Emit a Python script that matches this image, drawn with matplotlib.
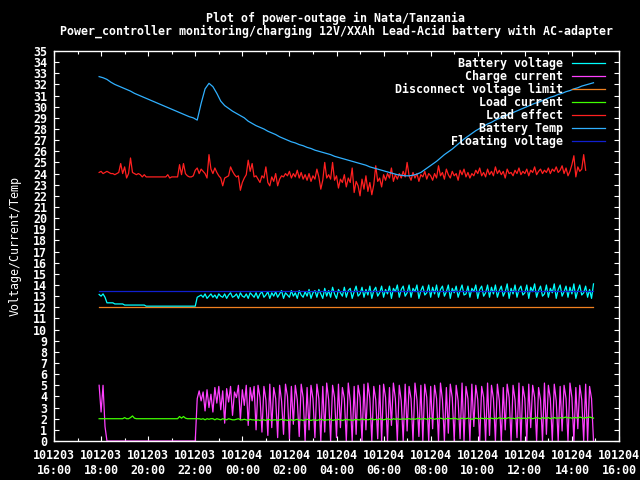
import numpy as np
import pandas as pd
import matplotlib
matplotlib.use('Agg')
import matplotlib.pyplot as plt
import matplotlib.dates as mdates

# log starts 101203 17:55, one sample every 5 min (temp every 10 min)
start = '2010-12-03 17:55'
x_from, x_to = '2010-12-03 16:00', '2010-12-04 16:00'

batt_volt = [13.15, 13.0, 13.2, 12.9,
    12.4, 12.4, 12.4, 12.4,
    12.3, 12.3, 12.3, 12.3, 12.3,
    12.2, 12.2, 12.2, 12.2, 12.2, 12.2, 12.2, 12.2, 12.2, 12.2, 12.2,
    12.1, 12.1, 12.1, 12.1, 12.1, 12.1, 12.1, 12.1, 12.1, 12.1, 12.1, 12.1, 12.1,
    12.1, 12.1, 12.1, 12.1, 12.1, 12.1, 12.1, 12.1, 12.1, 12.1, 12.1, 12.1, 12.1,
    12.9, 13.0,
    13.1, 12.9, 13.2, 12.8, 13.0, 13.2, 12.9, 13.1, 12.8, 13.2, 13.0, 12.9, 13.2, 12.8, 13.1,
    13.3, 12.9, 13.0, 13.2, 12.8, 13.3, 13.0, 12.9, 13.2, 12.8, 13.3, 13.1, 12.9, 13.3,
    12.8, 13.2, 13.4, 12.9, 13.1, 13.4, 12.8, 13.3, 13.0, 13.4, 12.9, 13.2, 13.5, 12.8, 13.3,
    13.1, 12.9, 13.5, 13.0, 13.3, 12.8, 13.5, 13.1, 12.9, 13.4, 13.0, 13.6, 12.8, 13.3, 13.5,
    12.9, 13.6, 13.2, 12.8, 13.7, 13.0, 13.5, 12.9, 13.8, 13.2, 12.8, 13.6, 13.3, 13.0, 13.8,
    12.9, 13.5, 13.7, 12.8, 13.4, 13.9, 13.0, 13.2, 13.8, 12.9, 13.6, 13.1, 13.9, 12.8, 13.5,
    13.8, 13.0, 13.3, 13.9, 12.9, 13.6, 13.2, 13.9, 12.8, 13.7,
    13.4, 14.0, 12.9, 13.6, 13.9, 13.0, 13.3, 14.0, 12.9, 13.7, 13.4, 14.0, 12.8, 13.5, 13.9,
    13.1, 13.3, 14.0, 12.9, 13.8, 13.2, 14.0, 12.9, 13.6, 13.9, 13.0, 13.4, 14.0, 12.8, 13.7,
    13.3, 13.9, 12.9, 13.5, 14.0, 13.1, 13.2, 13.9, 12.9, 13.7, 13.4, 14.0, 12.8, 13.6, 13.9,
    13.0, 13.3, 14.0, 12.9, 13.8,
    13.2, 14.0, 12.9, 13.5, 13.9, 13.0, 13.4, 14.1, 12.8, 13.7, 13.2, 14.0, 12.9, 13.6, 13.9,
    13.1, 13.3, 14.0, 12.8, 13.8, 13.4, 14.1, 12.9, 13.5, 13.9, 13.0, 13.2, 14.0, 12.9, 13.7,
    13.3, 14.1, 12.8, 13.6, 14.0, 13.0, 13.4, 13.9, 12.9, 13.8, 13.2, 14.1, 12.8, 13.5, 14.0,
    13.1, 13.3, 13.9, 12.9, 13.6, 12.8, 14.1]

charge_cur = [5.0, 2.6, 5.0, 1.3, 0.0,
    0, 0, 0, 0, 0, 0, 0, 0, 0, 0, 0, 0, 0, 0, 0, 0, 0, 0, 0, 0, 0, 0, 0,
    0, 0, 0, 0, 0, 0, 0, 0, 0, 0, 0, 0, 0, 0, 0, 0, 0, 0, 0, 0, 0, 0,
    3.8, 4.5, 3.6, 4.4, 2.7, 4.6, 3.0, 4.2, 2.6, 4.8, 3.4, 4.9, 2.8, 4.5, 1.6, 4.7,
    3.5, 4.9, 2.3, 4.4, 3.9, 5.0, 1.9, 4.6, 3.2, 5.0, 1.4, 4.8, 3.6, 4.9, 1.0,
    5.0, 3.9, 0.8, 4.9, 3.7, 0.5, 5.1, 1.2, 4.8, 3.8, 0.3, 5.0, 3.6, 0.6, 5.1,
    4.0, 0.2, 4.9, 1.5, 5.0, 3.7, 0.4, 5.1, 3.9, 0.0, 4.8, 1.0, 5.0, 3.8, 0.3,
    5.1, 3.8, 0.0, 4.9, 0.8, 5.2, 3.7, 0.0, 5.0, 3.9, 0.3, 5.1, 1.2, 4.8, 3.8, 0.0,
    5.2, 3.6, 0.0, 4.9, 0.6, 5.0, 3.9, 0.0, 5.1, 1.0, 5.2, 3.8, 0.0, 4.9, 3.7, 0.2,
    5.0, 0.0, 5.1, 3.9, 0.0, 4.8, 1.4, 5.2,
    3.8, 0.0, 5.0, 3.6, 0.0, 5.1, 0.9, 4.9, 3.8, 0.0, 5.2, 3.7, 0.4, 5.0, 0.0, 5.1,
    3.9, 0.0, 4.9, 1.1, 5.0, 3.8, 0.0, 5.2, 3.7, 0.0, 4.8, 0.7, 5.1, 3.9, 0.0, 5.0,
    3.6, 0.2, 5.2, 0.0, 4.9, 3.8, 0.0, 5.1,
    1.3, 5.0, 3.7, 0.0, 4.9, 3.9, 0.0, 5.2, 0.5, 5.0, 3.8, 0.0, 5.1, 3.6, 0.0, 4.8,
    1.0, 5.1, 3.9, 0.0, 5.0, 3.7, 0.3, 5.2, 0.0, 4.9, 3.8, 0.0, 5.1, 1.2, 5.0, 3.9,
    0.0, 4.8, 3.7, 0.0, 5.2, 0.6, 5.0, 3.8,
    0.0, 5.1, 3.6, 0.0, 4.9, 0.9, 5.0, 3.8, 0.0, 5.2, 3.9, 0.0, 4.8, 1.1, 5.0, 3.7,
    0.0, 5.1, 0.0, 4.9, 3.8, 0.0]

load_cur = [2.0, 2.0, 2.0, 2.0, 2.0, 2.0, 2.0, 2.0, 2.0, 2.0, 2.0, 2.0, 2.0,
    2.1, 2.0, 2.0, 2.1, 2.25, 2.05,
    2.0, 2.0, 2.0, 2.0, 2.0, 2.0, 2.0, 2.0, 2.0, 2.0, 2.0, 2.0, 2.0, 2.0, 2.0, 2.0,
    2.0, 2.0, 2.0, 2.0, 2.0, 2.0,
    2.2, 2.05, 2.2, 2.05, 2.0, 2.0, 2.0, 2.0, 2.0,
    2.0, 2.0, 1.95, 2.0, 1.9, 2.0, 1.95, 2.0, 2.0, 1.9, 2.0, 1.95, 1.9, 2.0, 1.95, 1.9,
    2.0, 1.95, 1.9, 1.9, 1.95, 2.0, 1.9, 1.9, 1.95, 1.9, 1.85, 1.95, 1.9, 1.9, 1.85,
    1.9, 1.85, 1.9, 1.9, 1.85, 1.95, 1.9, 1.85, 1.9, 1.9,
    1.85, 1.9, 1.95, 1.85, 1.9, 1.85, 1.9, 1.9, 1.85, 1.9,
    1.95, 1.85, 1.9, 1.85, 1.9, 1.95, 1.9, 1.85, 1.9, 1.9,
    1.85, 1.9, 1.95, 1.9, 1.85, 1.9, 1.9, 1.95, 1.85, 1.9,
    1.9, 1.95, 1.9, 1.85, 1.9, 1.95, 1.9, 1.9, 1.85, 1.9,
    1.95, 1.9, 1.9, 2.0, 1.9, 1.95, 1.9, 1.95, 2.0, 1.9,
    1.95, 1.9, 2.0, 1.95, 1.9, 1.95, 2.0, 1.95, 1.9, 2.0,
    1.95, 2.0, 1.95, 1.95, 2.0, 1.95, 2.0, 2.0, 1.95, 2.0,
    1.95, 2.0, 2.05, 1.95, 2.0, 2.0, 1.95, 2.0, 2.05, 2.0,
    1.95, 2.0, 2.0, 2.05, 2.0, 1.95, 2.0, 2.05, 2.0, 2.0,
    2.05, 2.0, 1.95, 2.0, 2.05, 2.0, 2.0, 2.05, 2.0, 1.95,
    2.0, 2.05, 2.0, 2.0, 2.05, 2.0, 2.05, 2.0, 2.0, 2.05,
    2.0, 2.05, 2.0, 2.1, 2.0, 2.05, 2.0, 2.05, 2.1, 2.0,
    2.05, 2.0, 2.05, 2.1, 2.0, 2.05, 2.05, 2.0, 2.1, 2.05,
    2.0, 2.05, 2.1, 2.05, 2.0, 2.1, 2.05, 2.05, 2.1, 2.0,
    2.05, 2.1, 2.05, 2.05, 2.1, 2.05, 2.1, 2.15, 2.05, 2.1,
    2.05, 2.1, 2.1, 2.05, 2.15, 2.1, 2.05, 2.1, 2.1, 2.15,
    2.1, 2.05]

load_eff = [24.1, 24.2, 24.0, 24.1, 24.2, 24.1,
    24.0, 24.0, 23.9, 24.0, 24.1,
    24.9, 24.0, 24.6, 23.6, 24.0,
    25.4, 24.1, 24.0,
    23.9, 24.0, 23.9, 23.7, 23.9,
    23.7, 23.7, 23.7, 23.7, 23.7, 23.7, 23.7, 23.7, 23.7, 23.7, 23.7,
    23.9, 23.6, 23.7, 23.7, 23.7, 23.7,
    24.8, 23.9, 24.9, 24.0, 23.8,
    23.7, 23.7, 23.8, 24.3,
    24.5, 24.0, 24.4, 24.2, 24.0, 23.6,
    25.7, 24.4, 24.0, 24.5, 24.1,
    23.8, 23.6, 22.9, 23.6, 23.7,
    23.8, 24.6, 24.2, 23.9, 23.7,
    23.8, 22.5, 23.2, 23.6, 23.9,
    25.2, 24.2, 24.9, 23.7, 23.8,
    23.5, 23.2, 23.8, 23.6, 24.6,
    23.2, 22.9, 23.7, 23.3, 24.0,
    22.9, 23.5, 23.8, 23.7, 24.0,
    23.8, 24.2, 23.6, 24.0, 23.7,
    24.3, 23.6, 24.1, 23.5, 23.9,
    23.4, 24.0, 23.3, 23.8, 23.5,
    24.4, 23.7, 22.6, 23.4, 25.0,
    23.6, 23.9, 23.5, 25.0, 23.4,
    23.8, 22.7, 23.5, 23.2, 23.9,
    22.8, 23.6, 23.2, 24.5, 22.3,
    23.3, 22.9, 22.0, 23.5, 22.6,
    23.8, 22.4, 23.2, 22.1, 23.0,
    24.7, 23.3, 23.6, 22.8, 23.9,
    23.4, 24.0, 23.6, 24.5, 23.3,
    23.9, 23.5, 24.0, 23.6, 24.2,
    23.7, 25.0, 23.8, 23.4, 24.1,
    23.6, 24.0, 23.3, 23.9, 23.7,
    24.2, 23.5, 24.0, 23.8, 23.4,
    24.0, 23.6, 24.7, 23.8, 24.1,
    23.5, 24.4, 23.9, 23.6, 24.2,
    23.8, 24.0, 23.4, 24.3, 23.9,
    24.4, 23.7, 24.1, 23.6, 24.0,
    23.8, 24.3, 24.0, 24.5, 23.8,
    24.1, 23.7, 24.4, 23.9, 24.2,
    23.8, 24.6, 24.0, 24.3, 23.9,
    24.2, 23.6, 24.4, 24.0, 24.1,
    23.8, 24.3, 24.0, 24.5, 23.9,
    24.2, 24.0, 24.4, 23.8, 24.3,
    24.1, 24.6, 23.9, 24.2, 24.4,
    24.0, 24.3, 24.1, 24.5, 24.0,
    24.4, 24.2, 24.6, 24.1, 24.3,
    24.7, 24.0, 24.5, 23.8,
    24.2, 24.8, 25.6, 23.7, 24.6, 24.2, 24.4, 25.7, 24.3]

batt_temp = [32.7, 32.6, 32.45, 32.2, 32.0, 31.85, 31.7, 31.55, 31.4, 31.2,
    31.05, 30.9, 30.75, 30.6, 30.45, 30.3, 30.15, 30.0, 29.85, 29.7,
    29.55, 29.4, 29.25, 29.1, 29.0, 28.8, 30.3, 31.6, 32.1, 31.8,
    31.2, 30.5, 30.1, 29.85, 29.6, 29.4, 29.2, 29.0, 28.7, 28.5,
    28.3, 28.15, 28.0, 27.8, 27.65, 27.5, 27.3, 27.15, 27.0, 26.85,
    26.75, 26.6, 26.5, 26.35, 26.25, 26.1, 26.0, 25.9, 25.8, 25.7,
    25.55, 25.45, 25.35, 25.25, 25.15, 25.05, 24.95, 24.85, 24.75, 24.6,
    24.5, 24.4, 24.3, 24.2, 24.1, 24.0, 23.9, 23.85, 23.8, 23.8,
    23.85, 23.95, 24.1, 24.35, 24.6, 24.85, 25.1, 25.4, 25.7, 25.95,
    26.2, 26.5, 26.8, 27.1, 27.35, 27.6, 27.85, 28.05, 28.25, 28.45,
    28.6, 28.8, 28.95, 29.1, 29.25, 29.4, 29.55, 29.7, 29.85, 30.0,
    30.15, 30.3, 30.4, 30.55, 30.7, 30.85, 30.95, 31.1, 31.2, 31.35,
    31.45, 31.6, 31.7, 31.85, 31.95, 32.05, 32.15]

disconnect_limit = 12.0
floating_volt = 13.5

labels = ['Battery voltage', 'Charge current', 'Disconnect voltage limit',
          'Load current', 'Load effect', 'Battery Temp', 'Floating voltage']
colors = ['#00ffff', '#ff40ff', '#f08020', '#40ff00', '#ff2020', '#30b0ff', '#1020d0']

def times(vals, step='5min'):
    return pd.date_range(start, periods=len(vals), freq=step)

plt.rcParams['font.family'] = 'DejaVu Sans Mono'
plt.rcParams['font.weight'] = 'bold'
plt.rcParams['font.size'] = 8.4

fig = plt.figure(figsize=(6.4, 4.8), dpi=100, facecolor='black')
ax = fig.add_axes([54/640, 39/480, 565/640, 390/480], facecolor='black')

tv = times(batt_volt)
lw = 0.9
ax.plot(tv, batt_volt, color=colors[0], lw=lw, label=labels[0])
ax.plot(times(charge_cur), charge_cur, color=colors[1], lw=lw, label=labels[1])
ax.plot([tv[0], tv[-1]], [disconnect_limit]*2, color=colors[2], lw=lw, label=labels[2])
ax.plot(times(load_cur), load_cur, color=colors[3], lw=lw, label=labels[3])
ax.plot(times(load_eff), load_eff, color=colors[4], lw=lw, label=labels[4])
ax.plot(times(batt_temp, '10min'), batt_temp, color=colors[5], lw=lw, label=labels[5])
ax.plot([tv[0], tv[-1]], [floating_volt]*2, color=colors[6], lw=lw, label=labels[6])

ax.set_xlim(pd.Timestamp(x_from), pd.Timestamp(x_to))
ax.set_ylim(0, 35)
ax.set_yticks(np.arange(0, 36, 1))
ax.xaxis.set_major_locator(mdates.HourLocator(byhour=range(0, 24, 2)))
ax.xaxis.set_minor_locator(mdates.HourLocator())
ax.xaxis.set_major_formatter(mdates.DateFormatter('%y%m%d\n%H:%M'))

for s in ax.spines.values():
    s.set_color('white')
    s.set_linewidth(1)
ax.tick_params(which='both', direction='in', colors='white', top=True, right=True, width=0.8)
ax.tick_params(which='major', length=3.5)
ax.tick_params(which='minor', length=2)
ax.tick_params(axis='y', pad=5)
ax.tick_params(axis='x', pad=6)
for lab in ax.get_xticklabels():
    lab.set_linespacing(1.15)

ax.set_ylabel('Voltage/Current/Temp', color='white')
ax.yaxis.set_label_coords(-0.058, 0.5)

fig.text(336/640, 1 - 18/480, 'Plot of power-outage in Nata/Tanzania',
         color='white', ha='center', va='center')
fig.text(336/640, 1 - 31/480,
         'Power_controller monitoring/charging 12V/XXAh Lead-Acid battery with AC-adapter',
         color='white', ha='center', va='center')

ax.legend(loc='upper right', markerfirst=False, frameon=False, labelcolor='white',
          handlelength=2.8, handletextpad=0.8, labelspacing=0.0,
          borderaxespad=0.2, borderpad=0.3, bbox_to_anchor=(0.985, 1.0))

fig.savefig('out.png', dpi=100, facecolor='black')
